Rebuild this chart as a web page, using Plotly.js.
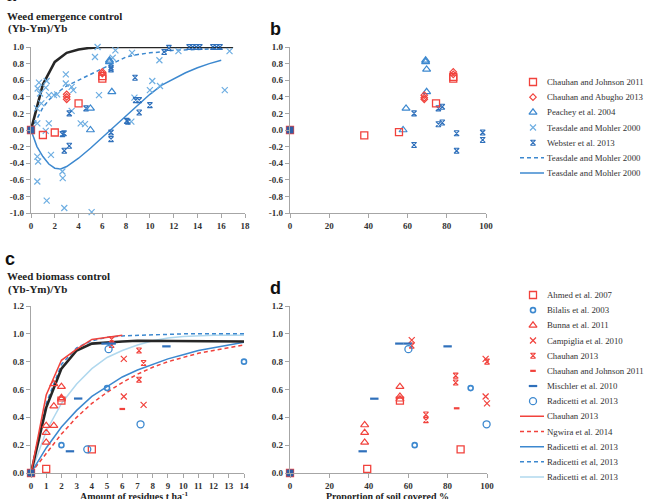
<!DOCTYPE html>
<html><head><meta charset="utf-8">
<script src="https://cdn.plot.ly/plotly-3.0.1.min.js"></script>
<style>html,body{margin:0;padding:0;background:#fff}#chart{width:647px;height:499px}</style>
</head><body><div id="chart"></div>
<script>
// ===== Panel a: weed emergence control vs amount of residues =====
const aChJohX = [0, 1.0, 2.0, 4.0, 6.0, 6.0];
const aChJohY = [0, -0.06, -0.03, 0.32, 0.62, 0.65];
const aChAbuX = [3.0, 3.0, 3.0, 6.0, 6.0];
const aChAbuY = [0.37, 0.40, 0.43, 0.68, 0.70];
const aPeachX = [5.0, 5.0, 6.6, 6.6, 6.8];
const aPeachY = [0.0, 0.26, 0.82, 0.84, 0.46];
const aTeasX = [0.5,0.53,0.53,0.6,0.53,0.56,0.67,0.76,0.87,1.24,1.32,1.24,1.5,1.51,1.68,1.32,1.93,2.2,2.64,2.67,2.8,2.93,2.93,3.42,3.56,3.42,4.18,4.54,5.1,5.38,5.6,5.72,6.87,7.1,8.44,8.5,8.7,10.0,10.2,10.8,10.85,12.4,16.3,16.7];
const aTeasY = [0.26,0.08,-0.32,-0.38,-0.62,0.50,0.57,0.44,0.32,0.51,0.59,-0.01,0.08,0.42,-0.30,-0.85,0.42,0.43,-0.50,-0.58,-0.94,0.67,0.56,0.52,0.48,0.23,0.08,0.07,-0.99,0.88,1.0,0.42,0.87,0.96,0.10,0.93,0.39,0.48,0.59,0.84,0.53,0.95,0.48,0.95];
const aWebX = [0,2.64,2.78,2.8,3.22,3.22,4.63,6.73,6.73,6.73,6.73,8.05,8.15,8.75,8.8,9.1,9.1,10.0,11.2,11.6,13.3,13.6,13.9,14.2,15.3,15.6,15.9];
const aWebY = [0,-0.05,-0.04,-0.25,-0.19,0.20,0.26,0.75,0.73,-0.03,-0.11,0.11,0.10,0.63,0.36,0.36,0.21,0.30,0.94,0.99,1.0,1.0,1.0,1.0,1.0,1.0,1.0];
const aBlackX = [0,1,2,3,4,5,6,8,10,12,14,16,17];
const aBlackY = [0,0.55,0.82,0.93,0.97,0.99,1.0,1.0,1.0,1.0,1.0,1.0,1.0];
const aDashX = [0,0.5,1,1.5,2,3,4,5,6,7,8,9,10,11,12,14,16];
const aDashY = [0,0.14,0.27,0.36,0.43,0.53,0.6,0.67,0.74,0.81,0.88,0.91,0.93,0.94,0.96,0.97,0.98];
const aSolidX = [0,0.5,1,1.5,2,2.5,3,4,5,6,7,8,9,10,11,12,13,14,15,16];
const aSolidY = [0,-0.2,-0.32,-0.41,-0.46,-0.47,-0.44,-0.34,-0.22,-0.09,0.04,0.18,0.31,0.43,0.54,0.62,0.69,0.75,0.8,0.84];

// ===== Panel b: weed emergence control vs soil cover =====
const bChJohX = [0, 37.9, 55.6, 74.5, 83.3, 83.3];
const bChJohY = [0, -0.065, -0.025, 0.32, 0.64, 0.62];
const bChAbuX = [68.5, 68.5, 68.5, 83.3, 83.3];
const bChAbuY = [0.42, 0.39, 0.37, 0.70, 0.67];
const bPeachX = [57.7, 59.2, 69.2, 69.2, 69.7, 69.7];
const bPeachY = [0.0, 0.26, 0.84, 0.82, 0.73, 0.46];
const bWebX = [0, 63.3, 63.3, 75.7, 77.7, 75.7, 77.7, 85, 85, 98.3, 98.3];
const bWebY = [0, 0.2, -0.18, 0.26, 0.28, 0.07, 0.09, -0.04, -0.25, -0.03, -0.12];

// ===== Panel c: weed biomass control vs amount of residues =====
const cAhmedX = [0, 1.0, 2.0, 4.0];
const cAhmedY = [0, 0.03, 0.52, 0.17];
const cBilX = [2.0, 5.0, 14.0];
const cBilY = [0.20, 0.61, 0.80];
const cBunX = [1, 1, 1, 1.5, 1.5, 1.5, 2, 2, 2];
const cBunY = [0.34, 0.29, 0.22, 0.34, 0.48, 0.64, 0.62, 0.54, 0.53];
const cCampX = [6.1, 6.1, 7.4];
const cCampY = [0.82, 0.55, 0.49];
const cCh13X = [5.3, 5.3, 7.1, 7.1, 7.4];
const cCh13Y = [0.96, 0.92, 0.88, 0.67, 0.79];
const cChJohX = [6.0];
const cChJohY = [0.46];
const cMischX = [2.56, 3.1, 4.9, 5.3, 8.9];
const cMischY = [0.156, 0.535, 0.93, 0.93, 0.91];
const cRadX = [3.7, 5.1, 7.2];
const cRadY = [0.17, 0.89, 0.35];
const cCh13LineX = [0,1,2,3,4,5,6];
const cCh13LineY = [0,0.56,0.81,0.89,0.96,0.975,0.99];
const cBlackX = [0,1,2,3,4,5,6,7,8,9,10,11,12,13,14];
const cBlackY = [0,0.47,0.75,0.88,0.93,0.94,0.945,0.95,0.95,0.95,0.95,0.95,0.95,0.95,0.945];
const cRadDashX = [0,1,2,3,4,5,6,7,8,10,12,14];
const cRadDashY = [0,0.5,0.78,0.9,0.95,0.975,0.985,0.99,0.995,1.0,1.0,1.0];
const cRadPaleX = [0,1,2,3,4,5,6,7,8,9,10,12,14];
const cRadPaleY = [0,0.3,0.5,0.64,0.75,0.83,0.88,0.92,0.95,0.97,0.98,0.99,0.99];
const cRadSolidX = [0,1,2,3,4,5,6,7,8,9,10,11,12,13,14];
const cRadSolidY = [0,0.18,0.33,0.45,0.55,0.62,0.69,0.74,0.78,0.82,0.85,0.88,0.9,0.92,0.94];
const cNgwX = [0,1,2,3,4,5,6,7,8,9,10,11,12,13,14];
const cNgwY = [0,0.14,0.28,0.4,0.5,0.58,0.65,0.71,0.76,0.8,0.83,0.86,0.88,0.9,0.92];

// ===== Panel d: weed biomass control vs soil cover =====
const dAhmedX = [0, 39.2, 55.8, 86.6];
const dAhmedY = [0, 0.03, 0.52, 0.17];
const dBilX = [63.3, 91.7];
const dBilY = [0.20, 0.61];
const dBunX = [37.9, 37.9, 37.9, 55.8, 55.8, 55.8];
const dBunY = [0.345, 0.29, 0.22, 0.62, 0.55, 0.53];
const dCampX = [61.8, 99.3, 100, 99.3];
const dCampY = [0.955, 0.55, 0.50, 0.82];
const dCh13X = [61.8, 69, 69, 84.1, 84.1, 100];
const dCh13Y = [0.915, 0.42, 0.38, 0.70, 0.65, 0.80];
const dChJohX = [84.6];
const dChJohY = [0.465];
const dMischX = [36.9, 42.8, 55.5, 59.7, 80.0];
const dMischY = [0.156, 0.534, 0.93, 0.93, 0.91];
const dRadX = [60.1, 99.8];
const dRadY = [0.89, 0.35];

const originX = [0], originY = [0];

// tick labels
const yTickValsAB = [-1,-0.8,-0.6,-0.4,-0.2,0,0.2,0.4,0.6,0.8,1];
const yTickTextAB = ['-1.0','-0.8','-0.6','-0.4','-0.2','0.0','0.2','0.4','0.6','0.8','1.0'];

const legendANames = ['Chauhan and Johnson 2011','Chauhan and Abugho 2013','Peachey et al. 2004','Teasdale and Mohler 2000','Webster et al. 2013','Teasdale and Mohler 2000','Teasdale and Mohler 2000'];
const legendCNames = ['Ahmed et al. 2007','Bilalis et al. 2003','Bunna et al. 2011','Campiglia et al. 2010','Chauhan 2013','Chauhan and Johnson 2011','Mischler et al. 2010','Radicetti et al. 2013','Chauhan 2013','Ngwira et al. 2014','Radicetti et al. 2013','Radicetti et al, 2013','Radicetti et al. 2013'];

// ===== styles =====
const SERIF = "'Liberation Serif', 'Times New Roman', 'DejaVu Serif', serif";
const SANS = "'Liberation Sans', Arial, 'DejaVu Sans', sans-serif";
const RED = '#f1423c', BLUE = '#3c88cf', LBLUE = '#6eaee2', DBLUE = '#2f70bb', PALE = '#b0d8ee';
const S = {
  sqRed:   {mode:'markers', marker:{symbol:'square-open', size:7, color:RED, line:{width:1.3, color:RED}}},
  diaRed:  {mode:'markers', marker:{symbol:'diamond-open', size:5, color:RED, line:{width:1.2, color:RED}}},
  triBlue: {mode:'markers', marker:{symbol:'triangle-up-open', size:7, color:BLUE, line:{width:1.2, color:BLUE}}},
  xBlue:   {mode:'markers', marker:{symbol:'x-thin-open', size:6, color:LBLUE, line:{width:1.2, color:LBLUE}}},
  hgBlue:  {mode:'markers', marker:{symbol:'hourglass-open', size:5, color:DBLUE, line:{width:1.1, color:DBLUE}}},
  dashBlue:{mode:'lines', line:{color:BLUE, width:1.5, dash:'4px,3px'}},
  solBlue: {mode:'lines', line:{color:BLUE, width:1.5}},
  black:   {mode:'lines', line:{color:'#262626', width:2.6}},
  cirBlueS:{mode:'markers', marker:{symbol:'circle-open', size:5, color:BLUE, line:{width:1.6, color:BLUE}}},
  triRed:  {mode:'markers', marker:{symbol:'triangle-up-open', size:7, color:RED, line:{width:1.2, color:RED}}},
  xRed:    {mode:'markers', marker:{symbol:'x-thin-open', size:6, color:RED, line:{width:1.2, color:RED}}},
  hgRed:   {mode:'markers', marker:{symbol:'hourglass-open', size:5, color:RED, line:{width:1.1, color:RED}}},
  dashRed: {mode:'markers', marker:{symbol:'line-ew-open', size:4, color:RED, line:{width:2.2, color:RED}}},
  dashMis: {mode:'markers', marker:{symbol:'line-ew-open', size:6, color:DBLUE, line:{width:2.2, color:DBLUE}}},
  cirBlueL:{mode:'markers', marker:{symbol:'circle-open', size:7, color:BLUE, line:{width:1.3, color:BLUE}}},
  lineRed: {mode:'lines', line:{color:RED, width:1.5}},
  lineRedD:{mode:'lines', line:{color:RED, width:1.5, dash:'4px,3px'}},
  linePale:{mode:'lines', line:{color:PALE, width:1.5}},
  origin:  {mode:'markers', marker:{symbol:'square', size:7, color:'#2f5fa6', line:{width:0}}}
};
function tr(style, x, y, xa, ya){
  return Object.assign({type:'scatter', x:x, y:y, xaxis:xa, yaxis:ya, showlegend:false, cliponaxis:false, hoverinfo:'skip'}, JSON.parse(JSON.stringify(style)));
}
const data = [
  // a
  tr(S.dashBlue, aDashX, aDashY, 'x','y'),
  tr(S.solBlue, aSolidX, aSolidY, 'x','y'),
  tr(S.black, aBlackX, aBlackY, 'x','y'),
  tr(S.xBlue, aTeasX, aTeasY, 'x','y'),
  tr(S.hgBlue, aWebX, aWebY, 'x','y'),
  tr(S.triBlue, aPeachX, aPeachY, 'x','y'),
  tr(S.sqRed, aChJohX, aChJohY, 'x','y'),
  tr(S.diaRed, aChAbuX, aChAbuY, 'x','y'),
  tr(S.origin, originX, originY, 'x','y'),
  // b
  tr(S.hgBlue, bWebX, bWebY, 'x2','y2'),
  tr(S.triBlue, bPeachX, bPeachY, 'x2','y2'),
  tr(S.sqRed, bChJohX, bChJohY, 'x2','y2'),
  tr(S.diaRed, bChAbuX, bChAbuY, 'x2','y2'),
  tr(S.origin, originX, originY, 'x2','y2'),
  // c
  tr(S.linePale, cRadPaleX, cRadPaleY, 'x3','y3'),
  tr(S.lineRedD, cNgwX, cNgwY, 'x3','y3'),
  tr(S.solBlue, cRadSolidX, cRadSolidY, 'x3','y3'),
  tr(S.dashBlue, cRadDashX, cRadDashY, 'x3','y3'),
  tr(S.black, cBlackX, cBlackY, 'x3','y3'),
  tr(S.lineRed, cCh13LineX, cCh13LineY, 'x3','y3'),
  tr(S.sqRed, cAhmedX, cAhmedY, 'x3','y3'),
  tr(S.cirBlueS, cBilX, cBilY, 'x3','y3'),
  tr(S.triRed, cBunX, cBunY, 'x3','y3'),
  tr(S.xRed, cCampX, cCampY, 'x3','y3'),
  tr(S.hgRed, cCh13X, cCh13Y, 'x3','y3'),
  tr(S.dashRed, cChJohX, cChJohY, 'x3','y3'),
  tr(S.dashMis, cMischX, cMischY, 'x3','y3'),
  tr(S.cirBlueL, cRadX, cRadY, 'x3','y3'),
  tr(S.origin, originX, originY, 'x3','y3'),
  // d
  tr(S.sqRed, dAhmedX, dAhmedY, 'x4','y4'),
  tr(S.cirBlueS, dBilX, dBilY, 'x4','y4'),
  tr(S.triRed, dBunX, dBunY, 'x4','y4'),
  tr(S.xRed, dCampX, dCampY, 'x4','y4'),
  tr(S.hgRed, dCh13X, dCh13Y, 'x4','y4'),
  tr(S.dashRed, dChJohX, dChJohY, 'x4','y4'),
  tr(S.dashMis, dMischX, dMischY, 'x4','y4'),
  tr(S.cirBlueL, dRadX, dRadY, 'x4','y4'),
  tr(S.origin, originX, originY, 'x4','y4')
];

// ===== custom legends (keys on hidden axes whose x range is in pixels) =====
const KEY_X = 533, KEY_L0 = 520, KEY_L1 = 544, KEY_TXT = 545;
const legendAStyles = [S.sqRed, S.diaRed, S.triBlue, S.xBlue, S.hgBlue, S.dashBlue, S.solBlue];
const legendCStyles = [S.sqRed, S.cirBlueS, S.triRed, S.xRed, S.hgRed, S.dashRed, S.dashMis, S.cirBlueL, S.lineRed, S.lineRedD, S.solBlue, S.dashBlue, S.linePale];
const annotations = [];
function addLegend(names, styles, xa, ya){
  names.forEach((nm, i) => {
    const st = styles[i];
    if (st.mode === 'lines') data.push(tr(st, [KEY_L0, KEY_L1], [i, i], xa, ya));
    else data.push(tr(st, [KEY_X], [i], xa, ya));
    annotations.push({xref:xa, yref:ya, x:KEY_TXT, y:i, text:nm, showarrow:false, xanchor:'left', yanchor:'middle',
      font:{family:SERIF, size:8.8, color:'#333'}});
  });
}
addLegend(legendANames, legendAStyles, 'x5', 'y5');
addLegend(legendCNames, legendCStyles, 'x6', 'y6');

// ===== titles / panel letters =====
const W = 647, H = 499;
function px(x){return x / W;}
function py(y){return (H - y) / H;}
function note(text, x, y, font, xanchor){
  annotations.push({xref:'paper', yref:'paper', x:px(x), y:py(y), text:text, showarrow:false,
    xanchor:xanchor || 'left', yanchor:'middle', font:font});
}
const letterFont = {family:SANS, size:18, color:'#111'};
const headFont = {family:SERIF, size:11, color:'#222'};
note('<b>a</b>', 4, -5, letterFont);
note('<b>Weed emergence control</b>', 5, 16, headFont);
note('<b>(Yb-Ym)/Yb</b>', 6, 29, headFont);
note('<b>b</b>', 268, 29, letterFont);
note('<b>c</b>', 3, 259, letterFont);
note('<b>Weed biomass control</b>', 5, 276, headFont);
note('<b>(Yb-Ym)/Yb</b>', 6, 289, headFont);
note('<b>d</b>', 268, 288, letterFont);
note('<b>Amount of residues t ha<sup>-1</sup></b>', 134, 496, {family:SERIF, size:10, color:'#222'}, 'center');
note('<b>Proportion of soil covered %</b>', 387, 496, {family:SERIF, size:10, color:'#222'}, 'center');

const tickFont = {family:SERIF, size:9, color:'#333', weight:'bold'};
const axBase = {showgrid:false, zeroline:false, showline:true, linecolor:'#a6a6a6', linewidth:1.2,
  ticks:'outside', ticklen:4, tickcolor:'#a6a6a6', tickwidth:1, tickfont:tickFont, fixedrange:true};
function ax(o){return Object.assign({}, JSON.parse(JSON.stringify(axBase)), o);}
const hidden = {visible:false, showgrid:false, zeroline:false, fixedrange:true};

const layout = {
  width: W, height: H, margin:{l:0, r:0, t:0, b:0}, paper_bgcolor:'#fff', plot_bgcolor:'rgba(0,0,0,0)',
  showlegend:false, annotations: annotations, font:{family:SERIF},
  xaxis:  ax({domain:[px(31), px(245)], range:[0,18], tickvals:[0,2,4,6,8,10,12,14,16,18], anchor:'y'}),
  yaxis:  ax({domain:[py(213), py(47)], range:[-1,1], tickvals:yTickValsAB, ticktext:yTickTextAB, anchor:'x'}),
  xaxis2: ax({domain:[px(290), px(486)], range:[0,100], dtick:20, anchor:'y2'}),
  yaxis2: ax({domain:[py(213), py(47)], range:[-1,1], tickvals:yTickValsAB, ticktext:yTickTextAB, anchor:'x2'}),
  xaxis3: ax({domain:[px(31), px(244)], range:[0,14], dtick:1, anchor:'y3'}),
  yaxis3: ax({domain:[py(473), py(306)], range:[0,1.2], dtick:0.2, tickformat:'.1f', anchor:'x3'}),
  xaxis4: ax({domain:[px(290), px(487)], range:[0,100], dtick:20, anchor:'y4'}),
  yaxis4: ax({domain:[py(473), py(306)], range:[0,1.2], dtick:0.2, tickformat:'.1f', anchor:'x4'}),
  xaxis5: Object.assign({domain:[px(510), px(647)], range:[510,647], anchor:'y5'}, hidden),
  yaxis5: Object.assign({domain:[py(82 + 6*15.17 + 7.58), py(82 - 7.58)], range:[6.5,-0.5], anchor:'x5'}, hidden),
  xaxis6: Object.assign({domain:[px(510), px(647)], range:[510,647], anchor:'y6'}, hidden),
  yaxis6: Object.assign({domain:[py(295 + 12*15.17 + 7.58), py(295 - 7.58)], range:[12.5,-0.5], anchor:'x6'}, hidden)
};
Plotly.newPlot('chart', data, layout, {staticPlot:true, displayModeBar:false});
</script>
</body></html>
